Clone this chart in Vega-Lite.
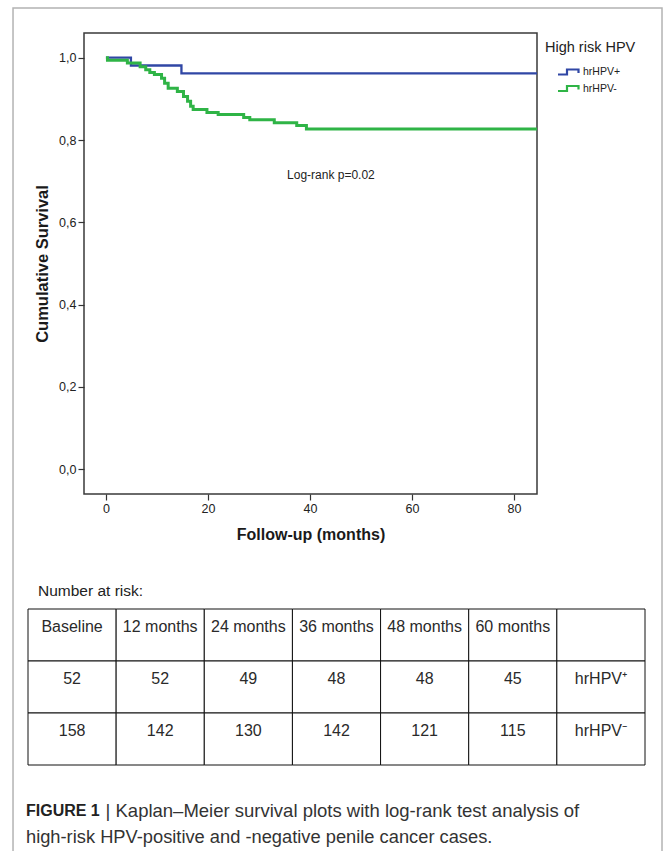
{
  "$schema": "https://vega.github.io/schema/vega-lite/v6.json",
  "autosize": "none",
  "width": 453,
  "height": 461,
  "padding": {"left": 84, "top": 33, "right": 128, "bottom": 357},
  "background": "white",
  "config": {
    "font": "Liberation Sans",
    "view": {"stroke": "#3a3a3a", "strokeWidth": 1.5}
  },
  "datasets": {
    "km": [
      {"group": "hrHPV+", "month": 0, "survival": 1.0},
      {"group": "hrHPV+", "month": 4.9, "survival": 0.981},
      {"group": "hrHPV+", "month": 14.8, "survival": 0.962},
      {"group": "hrHPV+", "month": 84.5, "survival": 0.962},
      {"group": "hrHPV-", "month": 0, "survival": 1.0},
      {"group": "hrHPV-", "month": 0.3, "survival": 0.994},
      {"group": "hrHPV-", "month": 4.2, "survival": 0.987},
      {"group": "hrHPV-", "month": 6.7, "survival": 0.978},
      {"group": "hrHPV-", "month": 7.8, "survival": 0.971},
      {"group": "hrHPV-", "month": 8.6, "survival": 0.964},
      {"group": "hrHPV-", "month": 9.5, "survival": 0.959},
      {"group": "hrHPV-", "month": 10.9, "survival": 0.95},
      {"group": "hrHPV-", "month": 11.5, "survival": 0.938},
      {"group": "hrHPV-", "month": 12.2, "survival": 0.926},
      {"group": "hrHPV-", "month": 14.0, "survival": 0.918},
      {"group": "hrHPV-", "month": 15.2, "survival": 0.906},
      {"group": "hrHPV-", "month": 16.0, "survival": 0.894},
      {"group": "hrHPV-", "month": 16.6, "survival": 0.882},
      {"group": "hrHPV-", "month": 17.1, "survival": 0.874},
      {"group": "hrHPV-", "month": 19.8, "survival": 0.867},
      {"group": "hrHPV-", "month": 22.0, "survival": 0.862},
      {"group": "hrHPV-", "month": 27.0, "survival": 0.855},
      {"group": "hrHPV-", "month": 28.2, "survival": 0.849},
      {"group": "hrHPV-", "month": 33.0, "survival": 0.842},
      {"group": "hrHPV-", "month": 37.4, "survival": 0.835},
      {"group": "hrHPV-", "month": 39.3, "survival": 0.827},
      {"group": "hrHPV-", "month": 84.5, "survival": 0.827}
    ],
    "table": [
      {"row": 0, "col": 0, "label": "Baseline"},
      {"row": 0, "col": 1, "label": "12 months"},
      {"row": 0, "col": 2, "label": "24 months"},
      {"row": 0, "col": 3, "label": "36 months"},
      {"row": 0, "col": 4, "label": "48 months"},
      {"row": 0, "col": 5, "label": "60 months"},
      {"row": 0, "col": 6, "label": ""},
      {"row": 1, "col": 0, "label": "52"},
      {"row": 1, "col": 1, "label": "52"},
      {"row": 1, "col": 2, "label": "49"},
      {"row": 1, "col": 3, "label": "48"},
      {"row": 1, "col": 4, "label": "48"},
      {"row": 1, "col": 5, "label": "45"},
      {"row": 1, "col": 6, "label": "hrHPV⁺"},
      {"row": 2, "col": 0, "label": "158"},
      {"row": 2, "col": 1, "label": "142"},
      {"row": 2, "col": 2, "label": "130"},
      {"row": 2, "col": 3, "label": "142"},
      {"row": 2, "col": 4, "label": "121"},
      {"row": 2, "col": 5, "label": "115"},
      {"row": 2, "col": 6, "label": "hrHPV⁻"}
    ]
  },
  "resolve": {
    "scale": {"x": "independent", "y": "independent", "color": "independent"},
    "axis": {"x": "independent", "y": "independent"}
  },
  "layer": [
    {
      "layer": [
        {
          "data": {"name": "km"},
          "mark": {"type": "line", "interpolate": "step-after", "strokeJoin": "miter"},
          "encoding": {
            "x": {
              "field": "month", "type": "quantitative",
              "scale": {"domain": [-4.3, 84.5], "nice": false, "zero": false},
              "axis": {
                "orient": "bottom", "values": [0, 20, 40, 60, 80], "grid": false, "domain": false,
                "tickSize": 6, "tickColor": "#333", "tickWidth": 1.2,
                "labelFontSize": 12.5, "labelColor": "#222", "labelPadding": 2,
                "title": "Follow-up (months)", "titleFontSize": 16, "titleFontWeight": "bold",
                "titleColor": "#1a1a1a", "titlePadding": 12
              }
            },
            "y": {
              "field": "survival", "type": "quantitative",
              "scale": {"domain": [-0.06, 1.06], "nice": false, "zero": false},
              "axis": {
                "orient": "left", "values": [0, 0.2, 0.4, 0.6, 0.8, 1.0], "grid": false, "domain": false,
                "tickSize": 6, "tickColor": "#333", "tickWidth": 1.2,
                "labelFontSize": 12.5, "labelColor": "#222", "labelPadding": 2,
                "labelExpr": "replace(format(datum.value, '.1f'), '.', ',')",
                "title": "Cumulative Survival", "titleFontSize": 16.5, "titleFontWeight": "bold",
                "titleColor": "#1a1a1a", "titlePadding": 8
              }
            },
            "color": {
              "field": "group", "type": "nominal",
              "scale": {"domain": ["hrHPV+", "hrHPV-"], "range": ["#3047a5", "#2fb446"]},
              "legend": {
                "orient": "none", "legendX": 461, "legendY": 8,
                "title": "High risk HPV", "titleFontSize": 14.5, "titleFontWeight": "normal",
                "titleColor": "#222", "titlePadding": 10,
                "labelFontSize": 10.5, "labelColor": "#222", "labelOffset": 7,
                "symbolType": "M-2.3,0.5H-0.5V-0.5H1.8V0.2",
                "symbolSize": 100, "symbolStrokeWidth": 2.2, "symbolOffset": 18, "rowPadding": 1.5
              }
            },
            "strokeWidth": {
              "field": "group", "type": "nominal",
              "scale": {"domain": ["hrHPV+", "hrHPV-"], "range": [2.3, 3]},
              "legend": null
            }
          }
        },
        {
          "data": {"values": [{}]},
          "mark": {"type": "text", "fontSize": 12, "color": "#222", "align": "center", "baseline": "middle"},
          "encoding": {
            "x": {"datum": 44.1, "type": "quantitative"},
            "y": {"datum": 0.716, "type": "quantitative"},
            "text": {"value": "Log-rank p=0.02"}
          }
        }
      ]
    },
    {
      "data": {"name": "table"},
      "layer": [
        {
          "mark": {"type": "rect", "fill": "white", "stroke": "#111", "strokeWidth": 1},
          "encoding": {
            "x": {"field": "col", "type": "ordinal",
              "scale": {"type": "band", "domain": [0, 1, 2, 3, 4, 5, 6], "range": [-56, 561], "paddingInner": 0, "paddingOuter": 0},
              "axis": null},
            "y": {"field": "row", "type": "ordinal",
              "scale": {"type": "band", "domain": [0, 1, 2], "range": [576, 732], "paddingInner": 0, "paddingOuter": 0},
              "axis": null}
          }
        },
        {
          "mark": {"type": "text", "fontSize": 16, "color": "#2a2a2a", "dy": -8, "align": "center", "baseline": "middle"},
          "encoding": {
            "x": {"field": "col", "type": "ordinal",
              "scale": {"type": "band", "domain": [0, 1, 2, 3, 4, 5, 6], "range": [-56, 561], "paddingInner": 0, "paddingOuter": 0},
              "axis": null},
            "y": {"field": "row", "type": "ordinal",
              "scale": {"type": "band", "domain": [0, 1, 2], "range": [576, 732], "paddingInner": 0, "paddingOuter": 0},
              "axis": null},
            "text": {"field": "label"}
          }
        }
      ]
    },
    {
      "data": {"values": [{}]},
      "encoding": {},
      "layer": [
        {
          "mark": {"type": "rect", "fill": "white", "fillOpacity": 0, "stroke": "#b3b3b3", "strokeWidth": 1.5},
          "encoding": {
            "x": {"datum": -0.17, "type": "quantitative", "scale": {"domain": [0, 7], "range": [-56, 561], "nice": false, "zero": false}, "axis": null},
            "x2": {"datum": 7.193},
            "y": {"datum": -11.558, "type": "quantitative", "scale": {"domain": [0, 3], "range": [576, 732], "nice": false, "zero": false}, "axis": null},
            "y2": {"datum": 4.83}
          }
        },
        {
          "mark": {"type": "text", "fontSize": 15.5, "color": "#222", "align": "left", "baseline": "middle"},
          "encoding": {
            "x": {"datum": 0.113, "type": "quantitative", "scale": {"domain": [0, 7], "range": [-56, 561], "nice": false, "zero": false}, "axis": null},
            "y": {"datum": -0.346, "type": "quantitative", "scale": {"domain": [0, 3], "range": [576, 732], "nice": false, "zero": false}, "axis": null},
            "text": {"value": "Number at risk:"}
          }
        },
        {
          "mark": {"type": "text", "fontSize": 16, "fontWeight": "bold", "color": "#222", "align": "left", "baseline": "middle"},
          "encoding": {
            "x": {"datum": -0.023, "type": "quantitative", "scale": {"domain": [0, 7], "range": [-56, 561], "nice": false, "zero": false}, "axis": null},
            "y": {"datum": 3.885, "type": "quantitative", "scale": {"domain": [0, 3], "range": [576, 732], "nice": false, "zero": false}, "axis": null},
            "text": {"value": "FIGURE 1"}
          }
        },
        {
          "mark": {"type": "text", "fontSize": 18.5, "color": "#333", "align": "left", "baseline": "middle"},
          "encoding": {
            "x": {"datum": 0.88, "type": "quantitative", "scale": {"domain": [0, 7], "range": [-56, 561], "nice": false, "zero": false}, "axis": null},
            "y": {"datum": 3.885, "type": "quantitative", "scale": {"domain": [0, 3], "range": [576, 732], "nice": false, "zero": false}, "axis": null},
            "text": {"value": "| Kaplan–Meier survival plots with log-rank test analysis of"}
          }
        },
        {
          "mark": {"type": "text", "fontSize": 18.3, "color": "#333", "align": "left", "baseline": "middle"},
          "encoding": {
            "x": {"datum": -0.023, "type": "quantitative", "scale": {"domain": [0, 7], "range": [-56, 561], "nice": false, "zero": false}, "axis": null},
            "y": {"datum": 4.404, "type": "quantitative", "scale": {"domain": [0, 3], "range": [576, 732], "nice": false, "zero": false}, "axis": null},
            "text": {"value": "high-risk HPV-positive and -negative penile cancer cases."}
          }
        }
      ]
    }
  ]
}
